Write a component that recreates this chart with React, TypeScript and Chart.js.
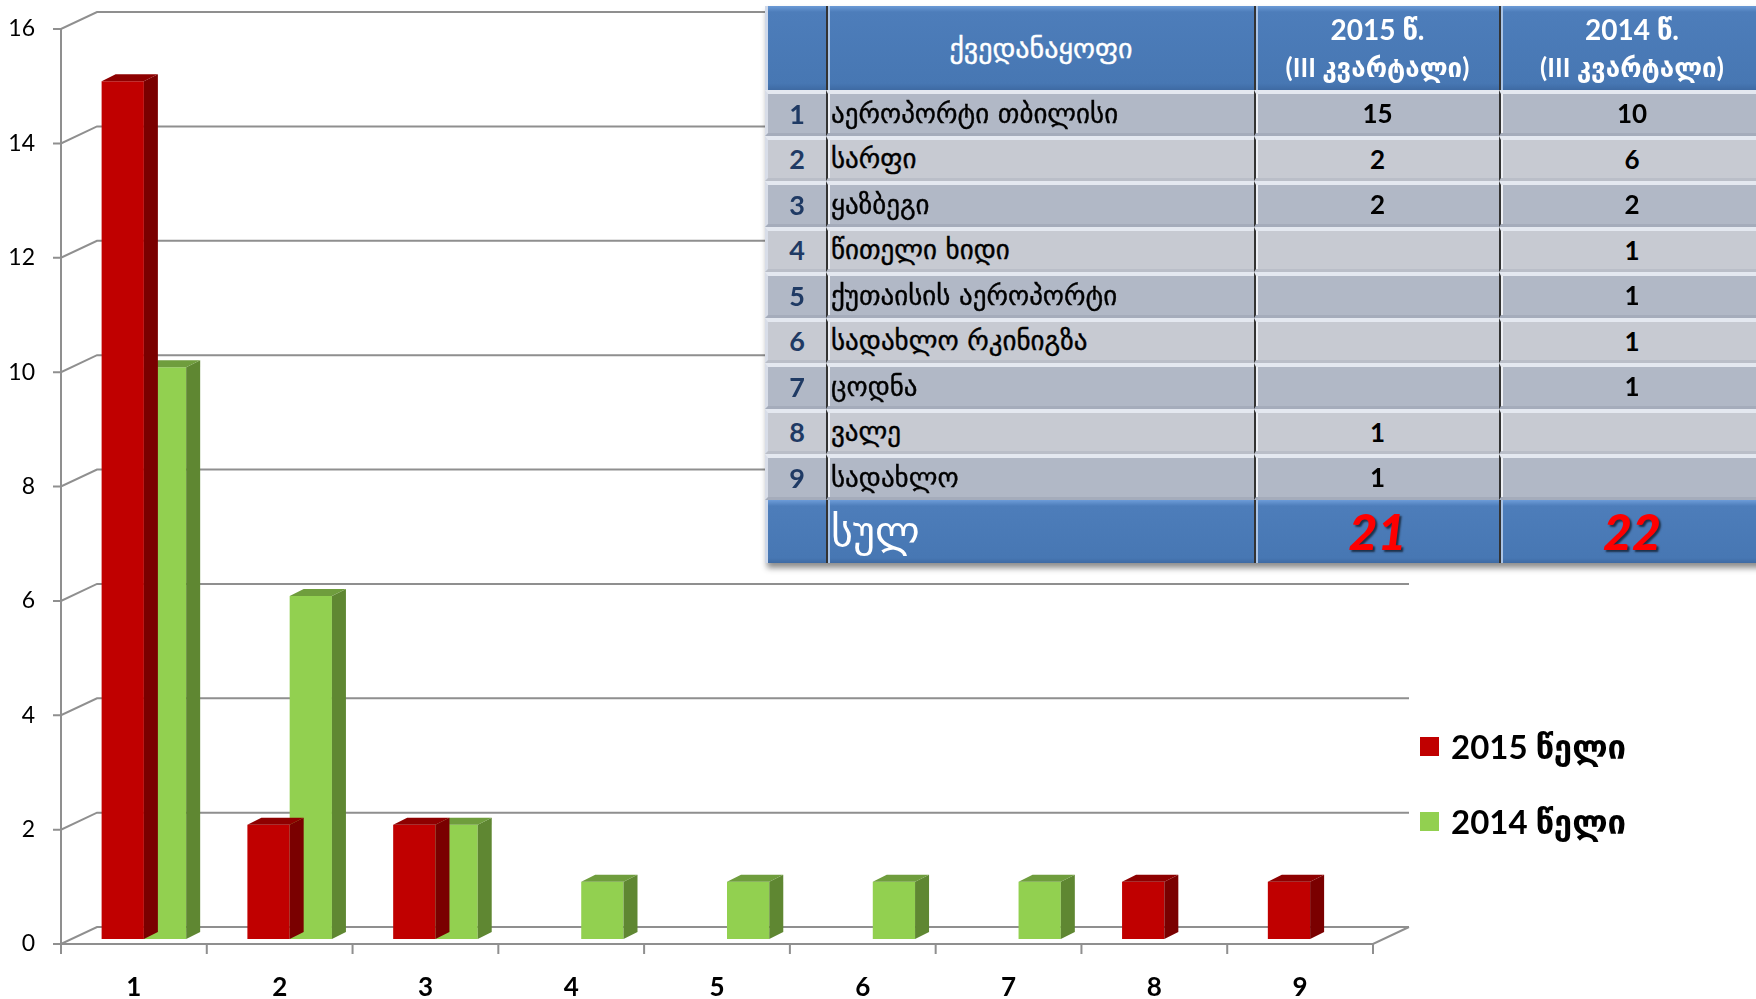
import React, { useEffect, useRef } from 'react';
import { Chart, registerables } from 'chart.js';

Chart.register(...registerables);

// ---------- data ----------
const categories = ['1', '2', '3', '4', '5', '6', '7', '8', '9'];
const values2015: (number | null)[] = [15, 2, 2, null, null, null, null, 1, 1];
const values2014: (number | null)[] = [10, 6, 2, 1, 1, 1, 1, null, null];
const seriesNames = ['2015 წელი', '2014 წელი'];
const yMin = 0;
const yMax = 16;
const yStep = 2;

const unitNames = [
  'აეროპორტი თბილისი',
  'სარფი',
  'ყაზბეგი',
  'წითელი ხიდი',
  'ქუთაისის აეროპორტი',
  'სადახლო რკინიგზა',
  'ცოდნა',
  'ვალე',
  'სადახლო',
];
const headerUnit = 'ქვედანაყოფი';
const headerYears = ['2015 წ.', '2014 წ.'];
const headerQuarter = '(III კვარტალი)';
const totalLabel = 'სულ';
const totals = [21, 22];

// ---------- styles ----------
const FRONT = ['#c00000', '#92d050'];
const SIDE = ['#7a0000', '#5f8732'];
const TOP = ['#8e0000', '#6f9d3d'];
const FONT = "Lato, 'DejaVu Sans', sans-serif";
const GEO = "'DejaVu Sans', Lato, sans-serif";

const WALL_DX = 36;
const WALL_DY = -17;
const BAR_SHIFT_X = 10;
const BAR_SHIFT_Y = -5;
const FACE_DX = 14;
const FACE_DY = -7;

function Table() {
  const cellBase: React.CSSProperties = {
    boxSizing: 'border-box',
    display: 'flex',
    alignItems: 'center',
    overflow: 'hidden',
    whiteSpace: 'nowrap',
  };
  const sep = '2px solid #333';
  const headerBg = 'linear-gradient(#6b9ad6 0px, #4d7dba 6px, #4777b3 92%, #3e6aa3 100%)';
  const cells: React.ReactNode[] = [];
  // header
  cells.push(<div key="h0" style={{ ...cellBase, background: headerBg, borderLeft: '3px solid #cfd9ea' }} />);
  cells.push(
    <div key="h1" style={{ ...cellBase, background: headerBg, borderLeft: sep, boxShadow: 'inset 2px 0 0 #aac4e6', justifyContent: 'center', color: '#fff', fontFamily: GEO, fontSize: 28, WebkitTextStroke: '0.4px #fff' }}>
      {headerUnit}
    </div>
  );
  headerYears.forEach((y, i) =>
    cells.push(
      <div key={'hy' + i} style={{ ...cellBase, background: headerBg, borderLeft: sep, boxShadow: 'inset 2px 0 0 #aac4e6', flexDirection: 'column', justifyContent: 'center', color: '#fff', fontFamily: FONT, fontSize: 28, fontWeight: 'bold', lineHeight: '38px' }}>
        <span>{y}</span>
        <span style={{ fontSize: 26 }}>{headerQuarter}</span>
      </div>
    )
  );
  unitNames.forEach((name, r) => {
    const odd = r % 2 === 0;
    const bg = odd ? '#b1b8c6' : '#c7cad2';
    const rowStyle: React.CSSProperties = {
      ...cellBase,
      background: bg,
      borderTop: '4px solid #e4e8f0',
      borderBottom: '3px solid ' + (odd ? '#a5acbb' : '#babec8'),
    };
    const v15 = values2015[r];
    const v14 = values2014[r];
    cells.push(
      <div key={'n' + r} style={{ ...rowStyle, borderLeft: '3px solid #d8dde8', justifyContent: 'center', color: '#1f3a64', fontFamily: FONT, fontWeight: 'bold', fontSize: 27 }}>
        {categories[r]}
      </div>
    );
    cells.push(
      <div key={'u' + r} style={{ ...rowStyle, borderLeft: sep, boxShadow: 'inset 2px 0 0 #eef0f5', paddingLeft: 3, color: '#000', fontFamily: GEO, fontSize: 27, WebkitTextStroke: '0.4px #000' }}>
        {name}
      </div>
    );
    [v15, v14].forEach((v, c) =>
      cells.push(
        <div key={'v' + r + c} style={{ ...rowStyle, borderLeft: sep, boxShadow: 'inset 2px 0 0 #eef0f5', justifyContent: 'center', color: '#000', fontFamily: FONT, fontWeight: 'bold', fontSize: 26 }}>
          {v == null ? '' : String(v)}
        </div>
      )
    );
  });
  // total
  const totBg = 'linear-gradient(#6d9cd8 0px, #4d7dba 6px, #4777b3 92%, #3e6aa3 100%)';
  cells.push(<div key="t0" style={{ ...cellBase, background: totBg, borderLeft: '3px solid #cfd9ea' }} />);
  cells.push(
    <div key="t1" style={{ ...cellBase, background: totBg, borderLeft: sep, boxShadow: 'inset 2px 0 0 #aac4e6', paddingLeft: 3, color: '#fff', fontFamily: GEO, fontSize: 42 }}>
      {totalLabel}
    </div>
  );
  totals.forEach((t, i) =>
    cells.push(
      <div key={'tt' + i} style={{ ...cellBase, background: totBg, borderLeft: sep, boxShadow: 'inset 2px 0 0 #aac4e6', justifyContent: 'center', color: '#ff0000', fontFamily: FONT, fontWeight: 900, fontStyle: 'italic', fontSize: 50, textShadow: '2px 2px 2px rgba(0,0,0,0.6)' }}>
        {String(t)}
      </div>
    )
  );
  return (
    <div
      style={{
        position: 'absolute',
        left: 765,
        top: 6,
        display: 'grid',
        gridTemplateColumns: '61px 428px 245px 264px',
        gridTemplateRows: '84px repeat(9, 45.5px) 63px',
        boxShadow: '2px 5px 6px rgba(0,0,0,0.45)',
      }}
    >
      {cells}
    </div>
  );
}

function Legend() {
  const tops = [737, 812];
  return (
    <>
      {seriesNames.map((n, i) => (
        <div key={n} style={{ position: 'absolute', left: 1420, top: tops[i] - 12, height: 42, display: 'flex', alignItems: 'center' }}>
          <div style={{ width: 19, height: 19, background: FRONT[i], marginRight: 12 }} />
          <span style={{ fontFamily: FONT, fontSize: 33, fontWeight: 'bold', color: '#000' }}>{n}</span>
        </div>
      ))}
    </>
  );
}

export default function App() {
  const ref = useRef<HTMLCanvasElement>(null);
  useEffect(() => {
    const canvas = ref.current!;
    const threeD = {
      id: 'threeD',
      beforeDatasetsDraw(chart: any) {
        const { ctx, chartArea: a, scales } = chart;
        const y = scales.y;
        ctx.save();
        ctx.strokeStyle = '#8f8f8f';
        ctx.lineWidth = 2;
        ctx.beginPath();
        for (let v = yMin; v <= yMax; v += yStep) {
          const py = y.getPixelForValue(v);
          ctx.moveTo(a.left - 8, py);
          ctx.lineTo(a.left, py);
          ctx.lineTo(a.left + WALL_DX, py + WALL_DY);
          ctx.lineTo(a.right + WALL_DX, py + WALL_DY);
        }
        ctx.moveTo(a.left, y.getPixelForValue(yMax));
        ctx.lineTo(a.left, a.bottom);
        ctx.lineTo(a.right, a.bottom);
        ctx.lineTo(a.right + WALL_DX, a.bottom + WALL_DY);
        const n = categories.length;
        for (let i = 0; i <= n; i++) {
          const px = a.left + ((a.right - a.left) * i) / n;
          ctx.moveTo(px, a.bottom);
          ctx.lineTo(px, a.bottom + 10);
        }
        ctx.stroke();
        ctx.restore();
      },
      beforeDatasetDraw(chart: any) {
        chart.ctx.save();
        chart.ctx.translate(BAR_SHIFT_X, BAR_SHIFT_Y);
      },
      afterDatasetDraw(chart: any, args: any) {
        const ctx = chart.ctx;
        const di = args.index;
        const raw = chart.data.datasets[di].data;
        args.meta.data.forEach((el: any, i: number) => {
          if (raw[i] == null) return;
          const { x, y, base, width } = el.getProps(['x', 'y', 'base', 'width'], true);
          const l = x - width / 2;
          const r = x + width / 2;
          ctx.fillStyle = SIDE[di];
          ctx.beginPath();
          ctx.moveTo(r, y);
          ctx.lineTo(r + FACE_DX, y + FACE_DY);
          ctx.lineTo(r + FACE_DX, base + FACE_DY);
          ctx.lineTo(r, base);
          ctx.closePath();
          ctx.fill();
          ctx.fillStyle = TOP[di];
          ctx.beginPath();
          ctx.moveTo(l, y);
          ctx.lineTo(l + FACE_DX, y + FACE_DY);
          ctx.lineTo(r + FACE_DX, y + FACE_DY);
          ctx.lineTo(r, y);
          ctx.closePath();
          ctx.fill();
        });
        ctx.restore();
      },
    };
    const chart = new Chart(canvas, {
      type: 'bar',
      data: {
        labels: categories,
        datasets: [
          { label: seriesNames[0], data: values2015, backgroundColor: FRONT[0], borderWidth: 0, categoryPercentage: 0.58, barPercentage: 1 },
          { label: seriesNames[1], data: values2014, backgroundColor: FRONT[1], borderWidth: 0, categoryPercentage: 0.58, barPercentage: 1 },
        ],
      } as any,
      options: {
        responsive: false,
        animation: false,
        layout: { padding: { top: 29, right: 383, left: 0, bottom: 0 } },
        plugins: { legend: { display: false }, tooltip: { enabled: false } },
        scales: {
          x: {
            grid: { display: false, drawTicks: false },
            border: { display: false },
            ticks: { color: '#000', font: { family: FONT, size: 26, weight: 'bold' }, padding: 28 },
            afterFit: (s: any) => {
              s.height = 55;
              s.paddingLeft = 0;
              s.paddingRight = 0;
            },
          },
          y: {
            min: yMin,
            max: yMax,
            grid: { display: false, drawTicks: false },
            border: { display: false },
            ticks: { stepSize: yStep, color: '#000', font: { family: FONT, size: 23 }, padding: 26 },
            afterFit: (s: any) => {
              s.width = 61;
              s.paddingTop = 0;
              s.paddingBottom = 0;
            },
          },
        },
      } as any,
      plugins: [threeD],
    });
    return () => chart.destroy();
  }, []);

  return (
    <div style={{ position: 'absolute', left: 0, top: 0, width: 1756, height: 999, overflow: 'hidden', background: '#fff' }}>
      <canvas ref={ref} width={1756} height={999} style={{ display: 'block', position: 'absolute', left: 0, top: 0 }} />
      <Table />
      <Legend />
    </div>
  );
}
